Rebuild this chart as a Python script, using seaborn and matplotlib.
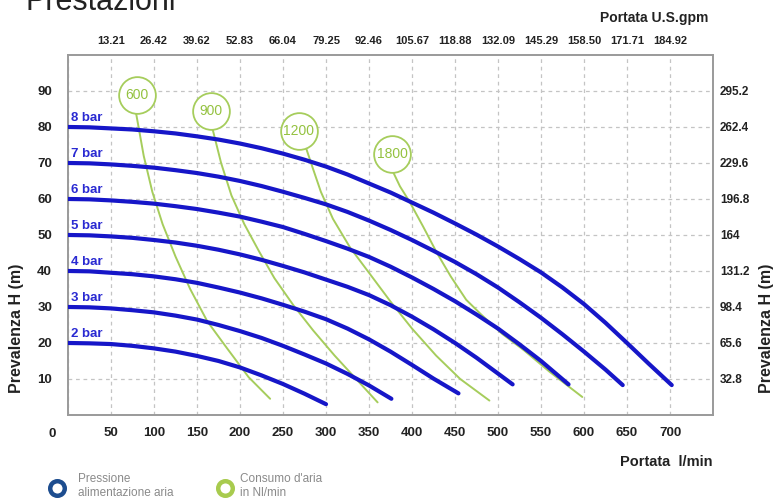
import matplotlib
matplotlib.use("Agg")
import matplotlib.pyplot as plt
import pandas as pd
import seaborn as sns

# pressure curves (l/min -> head in m)
bar_labels = ["2 bar", "3 bar", "4 bar", "5 bar", "6 bar", "7 bar", "8 bar"]
bar_start = [20, 30, 40, 50, 60, 70, 80]

q_2bar = [0, 25, 50, 75, 100, 125, 150, 175, 200, 225, 250, 275, 300]
h_2bar = [20, 19.9, 19.7, 19.2, 18.5, 17.6, 16.4, 15.0, 13.2, 11.0, 8.6, 5.9, 3.0]
q_3bar = [0, 25, 50, 75, 100, 125, 150, 175, 200, 225, 250, 275, 300, 325, 350, 376]
h_3bar = [30, 29.9, 29.6, 29.1, 28.5, 27.6, 26.5, 25.0, 23.3, 21.4, 19.2, 16.8, 14.3,
          11.4, 8.2, 4.5]
q_4bar = [0, 25, 50, 75, 100, 125, 150, 175, 200, 225, 250, 275, 300, 325, 350, 375,
          400, 425, 454]
h_4bar = [40, 39.9, 39.5, 39.1, 38.5, 37.7, 36.7, 35.4, 34.0, 32.4, 30.6, 28.7, 26.6,
          24.0, 21.0, 17.6, 13.9, 10.1, 6.0]
q_5bar = [0, 25, 50, 75, 100, 125, 150, 175, 200, 225, 250, 275, 300, 325, 350, 375,
          400, 425, 450, 475, 500, 517]
h_5bar = [50, 49.9, 49.6, 49.2, 48.6, 47.9, 47.0, 45.9, 44.6, 43.1, 41.4, 39.6, 37.6,
          35.6, 33.3, 30.5, 27.3, 23.8, 20.0, 15.9, 11.5, 8.5]
q_6bar = [0, 25, 50, 75, 100, 125, 150, 175, 200, 225, 250, 275, 300, 325, 350, 375,
          400, 425, 450, 475, 500, 525, 550, 582]
h_6bar = [60, 59.9, 59.6, 59.2, 58.7, 58.0, 57.2, 56.2, 55.1, 53.7, 52.2, 50.3, 48.3,
          46.2, 43.9, 41.2, 38.2, 35.0, 31.6, 27.9, 24.0, 19.6, 15.0, 8.5]
q_7bar = [0, 25, 50, 75, 100, 125, 150, 175, 200, 225, 250, 275, 300, 325, 350, 375,
          400, 425, 450, 475, 500, 525, 550, 575, 600, 625, 645]
h_7bar = [70, 69.9, 69.6, 69.2, 68.7, 68.0, 67.2, 66.2, 65.0, 63.6, 62.0, 60.3, 58.5,
          56.4, 54.0, 51.4, 48.6, 45.6, 42.5, 39.1, 35.4, 31.3, 27.0, 22.4, 17.6,
          12.6, 8.3]
q_8bar = [0, 25, 50, 75, 100, 125, 150, 175, 200, 225, 250, 275, 300, 325, 350, 375,
          400, 425, 450, 475, 500, 525, 550, 575, 600, 625, 650, 675, 702]
h_8bar = [80, 79.9, 79.6, 79.3, 78.8, 78.2, 77.4, 76.5, 75.4, 74.1, 72.6, 70.9, 69.0,
          66.8, 64.3, 61.8, 59.0, 56.2, 53.2, 50.1, 46.8, 43.3, 39.6, 35.4, 30.8,
          25.6, 20.0, 14.3, 8.3]

# air consumption curves (Nl/min)
air_labels = ["600", "900", "1200", "1800"]
air_center_q = [80, 166, 268, 377]
air_center_h = [89, 84.3, 79.0, 72.6]

q_600 = [79, 88, 98, 110, 125, 142, 162, 185, 210, 235]
h_600 = [84, 72, 62, 53, 44, 35, 26, 18.5, 10.5, 4.5]
q_900 = [168, 178, 190, 205, 222, 240, 262, 285, 310, 335, 360]
h_900 = [79.5, 70, 61, 53, 45.5, 38, 30.5, 23.5, 16.5, 10, 3.5]
q_1200 = [277, 284, 294, 308, 328, 350, 375, 400, 428, 456, 490]
h_1200 = [74, 69, 62, 54.5, 46.5, 39.5, 31.5, 24, 16.5, 10, 4]
q_1800 = [378, 386, 397, 413, 429, 445, 463, 480, 505, 530, 560, 598]
h_1800 = [67.5, 63.5, 59.3, 52.3, 45, 38.5, 32, 28, 22.5, 18, 12, 5]

# axes ticks
lmin_ticks = [0, 50, 100, 150, 200, 250, 300, 350, 400, 450, 500, 550, 600, 650, 700]
gpm_ticks = [50, 100, 150, 200, 250, 300, 350, 400, 450, 500, 550, 600, 650, 700]
gpm_labels = ["13.21", "26.42", "39.62", "52.83", "66.04", "79.25", "92.46", "105.67",
              "118.88", "132.09", "145.29", "158.50", "171.71", "184.92"]
h_ticks = [10, 20, 30, 40, 50, 60, 70, 80, 90]
ft_labels = ["32.8", "65.6", "98.4", "131.2", "164", "196.8", "229.6", "262.4", "295.2"]

BLUE = "#1616c8"
BLUE_TXT = "#2a2ad2"
GREEN = "#a6cd5c"
GREEN_TXT = "#94c240"
DARK = "#222222"

sns.set_style("white")
plt.rcParams["font.family"] = ["Liberation Sans", "DejaVu Sans"]

pressure = pd.concat([
    pd.DataFrame({"q": q, "h": h, "curve": lab})
    for q, h, lab in zip([q_2bar, q_3bar, q_4bar, q_5bar, q_6bar, q_7bar, q_8bar],
                         [h_2bar, h_3bar, h_4bar, h_5bar, h_6bar, h_7bar, h_8bar],
                         bar_labels)
])
air = pd.concat([
    pd.DataFrame({"q": q, "h": h, "curve": lab})
    for q, h, lab in zip([q_600, q_900, q_1200, q_1800],
                         [h_600, h_900, h_1200, h_1800],
                         air_labels)
])

fig = plt.figure(figsize=(7.73, 5.03), dpi=100)
ax = fig.add_axes([0.088, 0.175, 0.8344, 0.7157])

sns.lineplot(data=air, x="q", y="h", units="curve", estimator=None, sort=False,
             color=GREEN, lw=1.4, zorder=2, ax=ax)
sns.lineplot(data=pressure, x="q", y="h", units="curve", estimator=None, sort=False,
             color=BLUE, lw=3.0, solid_capstyle="round", solid_joinstyle="round",
             zorder=3, ax=ax)

# circle labels for air consumption
ax.scatter(air_center_q, air_center_h, s=700, facecolor="white", edgecolor=GREEN,
           linewidth=1.3, zorder=5)
for q, h, lab in zip(air_center_q, air_center_h, air_labels):
    ax.text(q, h, lab, ha="center", va="center", color=GREEN_TXT, fontsize=10, zorder=6)

for lab, h0 in zip(bar_labels, bar_start):
    ax.text(3, h0 + 0.8, lab, ha="left", va="bottom", color=BLUE_TXT,
            fontsize=9.5, fontweight="bold", zorder=6)

ax.set_xlim(0, 750)
ax.set_ylim(0, 100)
ax.set_xticks(lmin_ticks)
ax.set_xticklabels([""] + [str(t) for t in lmin_ticks[1:]])
ax.set_yticks(h_ticks)
ax.set_xlabel("")
ax.set_ylabel("")
ax.grid(True, ls=(0, (3, 3)), color="#c4c4c4", lw=0.9)
ax.tick_params(axis="x", length=0, pad=9, labelsize=9.5, labelcolor=DARK)
ax.tick_params(axis="y", length=0, pad=11.5, labelsize=9.5, labelcolor=DARK)
for lbl in ax.get_xticklabels() + ax.get_yticklabels():
    lbl.set_fontweight("bold")
for sp in ax.spines.values():
    sp.set_color("#9a9a9a")
    sp.set_linewidth(1.4)
ax.annotate("0", xy=(0, 0), xycoords=("data", "axes fraction"), xytext=(-16, -19),
            textcoords="offset pixels", ha="center", va="center",
            fontsize=9.5, fontweight="bold", color=DARK)

# right axis in feet
ax2 = ax.twinx()
ax2.set_ylim(0, 100)
ax2.set_yticks(h_ticks)
ax2.set_yticklabels(ft_labels, fontweight="bold")
ax2.tick_params(axis="y", length=0, pad=5, labelsize=8.5, labelcolor=DARK)
ax2.grid(False)
for sp in ax2.spines.values():
    sp.set_visible(False)

# top axis in U.S. gpm
ax3 = ax.twiny()
ax3.set_xlim(0, 750)
ax3.set_xticks(gpm_ticks)
ax3.set_xticklabels(gpm_labels, fontweight="bold")
ax3.tick_params(axis="x", length=0, pad=6.5, labelsize=8, labelcolor=DARK)
ax3.grid(False)
for sp in ax3.spines.values():
    sp.set_visible(False)

# overlay for free texts and the legend, in pixel coordinates
ov = fig.add_axes([0, 0, 1, 1], facecolor="none")
ov.set_xlim(0, 773)
ov.set_ylim(503, 0)
ov.axis("off")

ov.text(25, 10, "Prestazioni", fontsize=22, va="baseline", ha="left", color=DARK)
ov.text(708, 18, "Portata U.S.gpm", fontsize=10, fontweight="bold", ha="right",
        va="center", color=DARK)
ov.text(712, 462, "Portata  l/min", fontsize=10.5, fontweight="bold", ha="right",
        va="center", color=DARK)
ov.text(17, 328, "Prevalenza H (m)", rotation=90, fontsize=11.5, fontweight="bold",
        ha="center", va="center", color=DARK)
ov.text(766, 328, "Prevalenza H (m)", rotation=90, fontsize=11.5, fontweight="bold",
        ha="center", va="center", color=DARK)

ov.scatter([57], [488], s=110, facecolor="white", edgecolor="#1d4d8f", linewidth=3.2)
ov.text(78, 486, "Pressione\nalimentazione aria", fontsize=8.5, color="#8a8a8a",
        ha="left", va="center", linespacing=1.15)
ov.scatter([225], [488], s=110, facecolor="white", edgecolor="#a8cb4e", linewidth=3.2)
ov.text(240, 486, "Consumo d'aria\nin Nl/min", fontsize=8.5, color="#8a8a8a",
        ha="left", va="center", linespacing=1.15)

fig.savefig("out.png", dpi=100)
